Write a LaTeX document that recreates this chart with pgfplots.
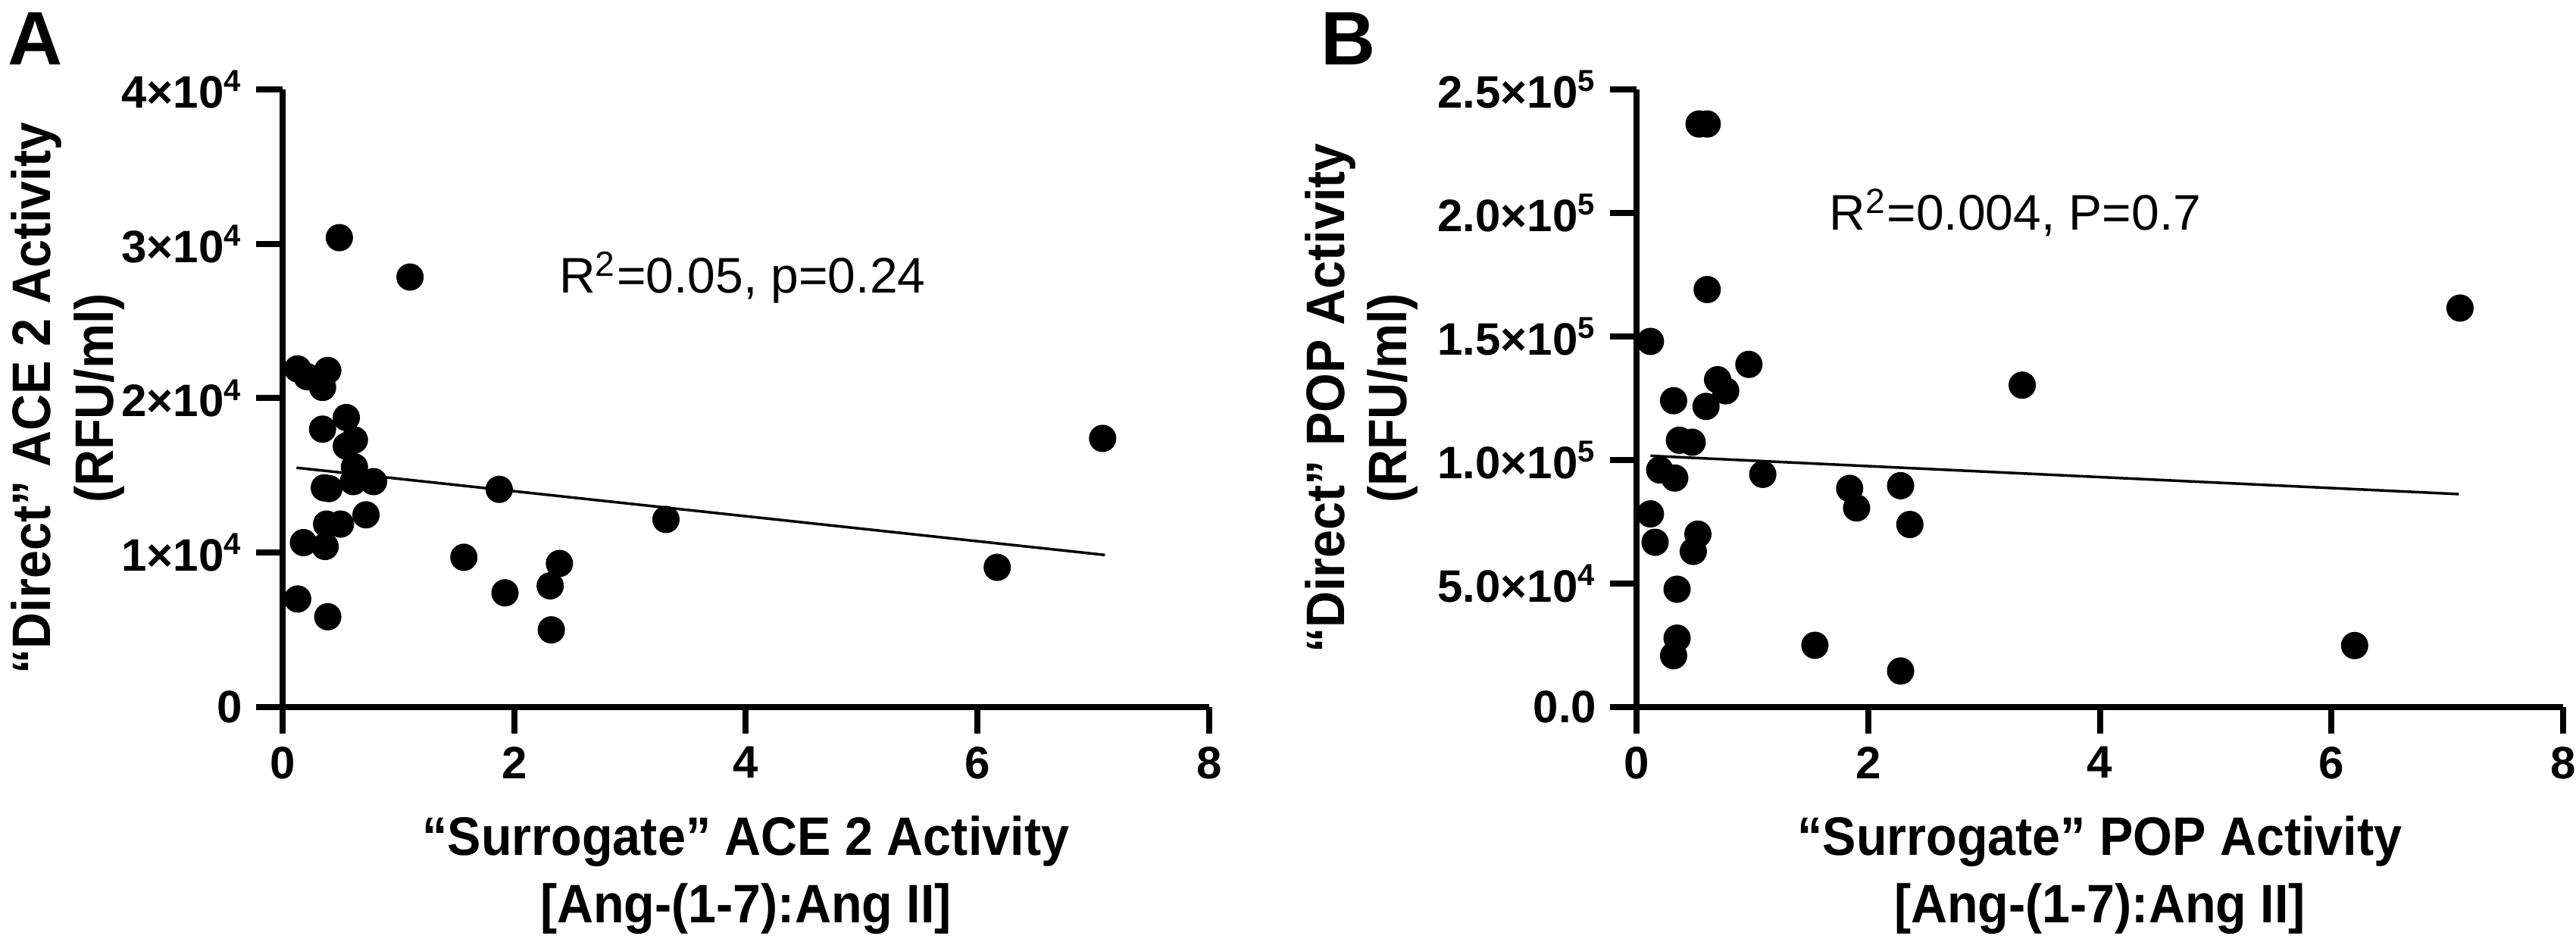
\documentclass[border=0pt]{standalone}
\usepackage{fontspec}
\setmainfont{Liberation Sans}
\newfontfamily\labfont{Liberation Sans}[FakeStretch=0.93]
\usepackage{pgfplots}
\pgfplotsset{compat=1.18}

\pgfplotstableread{
x y
0.49 30400
1.10 27850
0.13 21900
0.21 21400
0.39 21800
0.345 20700
0.55 18750
0.345 18000
0.62 17300
0.55 16900
0.62 15550
0.36 14200
0.40 14150
0.61 14600
0.785 14600
0.72 12450
0.38 11850
0.50 11850
0.18 10650
0.367 10400
0.13 7000
0.39 5850
1.565 9700
1.92 7400
2.39 9300
2.31 7850
2.32 5000
1.87 14100
3.31 12150
6.17 9050
7.08 17400
}\aceA

\pgfplotstableread{
x y
0.54 236000
0.61 236000
0.61 169000
7.11 161500
0.12 148000
0.97 138700
3.33 130300
0.70 132500
0.77 128000
0.32 124000
0.60 121700
0.37 108000
0.48 107200
0.20 96000
0.33 92700
1.09 94200
1.84 88500
1.90 80600
2.28 89600
2.36 73900
0.12 78200
0.16 66700
0.53 70000
0.49 63000
0.35 47700
0.35 27900
0.32 20800
1.54 25000
2.28 14600
6.20 24900
}\popB

\pgfplotsset{prism/.style={
  scale only axis, width=244.6pt, height=163pt,
  anchor=south west, clip=false,
  axis x line=bottom, axis y line=left,
  axis line style={-, line width=1.6pt, black},
  tick align=outside, major tick length=7pt,
  every tick/.style={line width=1.6pt, black},
  tick label style={font=\fontsize{12}{14}\selectfont\bfseries, black},
  xmin=0, xmax=8, xtick={0,2,4,6,8}, xticklabels={0,2,4,6,8},
  scaled y ticks=false, ymin=0,
  label style={font=\labfont\fontsize{14.3}{16.5}\selectfont\bfseries, align=center},
  xlabel style={at={(axis description cs:0.5,-0.272)}, anchor=center, font=\labfont\fontsize{14.3}{17.8}\selectfont\bfseries},
}}

\begin{document}
\begin{tikzpicture}
\path[use as bounding box] (0,0) rectangle (680pt,247.8pt);

\node[font=\fontsize{20}{22}\selectfont\bfseries] at (9.4pt,237.6pt) {A};
\node[font=\fontsize{20}{22}\selectfont\bfseries] at (356pt,237.6pt) {B};

\begin{axis}[prism, at={(74.6pt,61.2pt)},
  ymax=40000, ytick={0,10000,20000,30000,40000},
  yticklabels={0,1×10\textsuperscript{4},2×10\textsuperscript{4},3×10\textsuperscript{4},4×10\textsuperscript{4}},
  ylabel={“Direct” ACE 2 Activity\\(RFU/ml)},
  ylabel style={at={(axis description cs:-0.232,0.5)}, anchor=center},
  xlabel={“Surrogate” ACE 2 Activity\\{}[Ang-(1-7):Ang II]},
]
\addplot[only marks, mark=*, mark size=3.4pt, black, mark options={fill=black}] table[x=x,y=y] {\aceA};
\addplot[black, line width=0.7pt] coordinates {(0.12,15500) (7.1,9850)};
\node[font=\fontsize{13.2}{15}\selectfont] at (axis cs:3.97,27800) {R\textsuperscript{2}=0.05, p=0.24};
\end{axis}

\begin{axis}[prism, at={(432pt,61.2pt)},
  ymax=250000, ytick={0,50000,100000,150000,200000,250000},
  yticklabels={0.0,5.0×10\textsuperscript{4},1.0×10\textsuperscript{5},1.5×10\textsuperscript{5},2.0×10\textsuperscript{5},2.5×10\textsuperscript{5}},
  ylabel={“Direct” POP Activity\\(RFU/ml)},
  ylabel style={at={(axis description cs:-0.297,0.5)}, anchor=center},
  xlabel={“Surrogate” POP Activity\\{}[Ang-(1-7):Ang II]},
]
\addplot[only marks, mark=*, mark size=3.4pt, black, mark options={fill=black}] table[x=x,y=y] {\popB};
\addplot[black, line width=0.7pt] coordinates {(0.12,101700) (7.1,86200)};
\node[font=\fontsize{13.2}{15}\selectfont] at (axis cs:3.27,200000) {R\textsuperscript{2}=0.004, P=0.7};
\end{axis}
\end{tikzpicture}
\end{document}
